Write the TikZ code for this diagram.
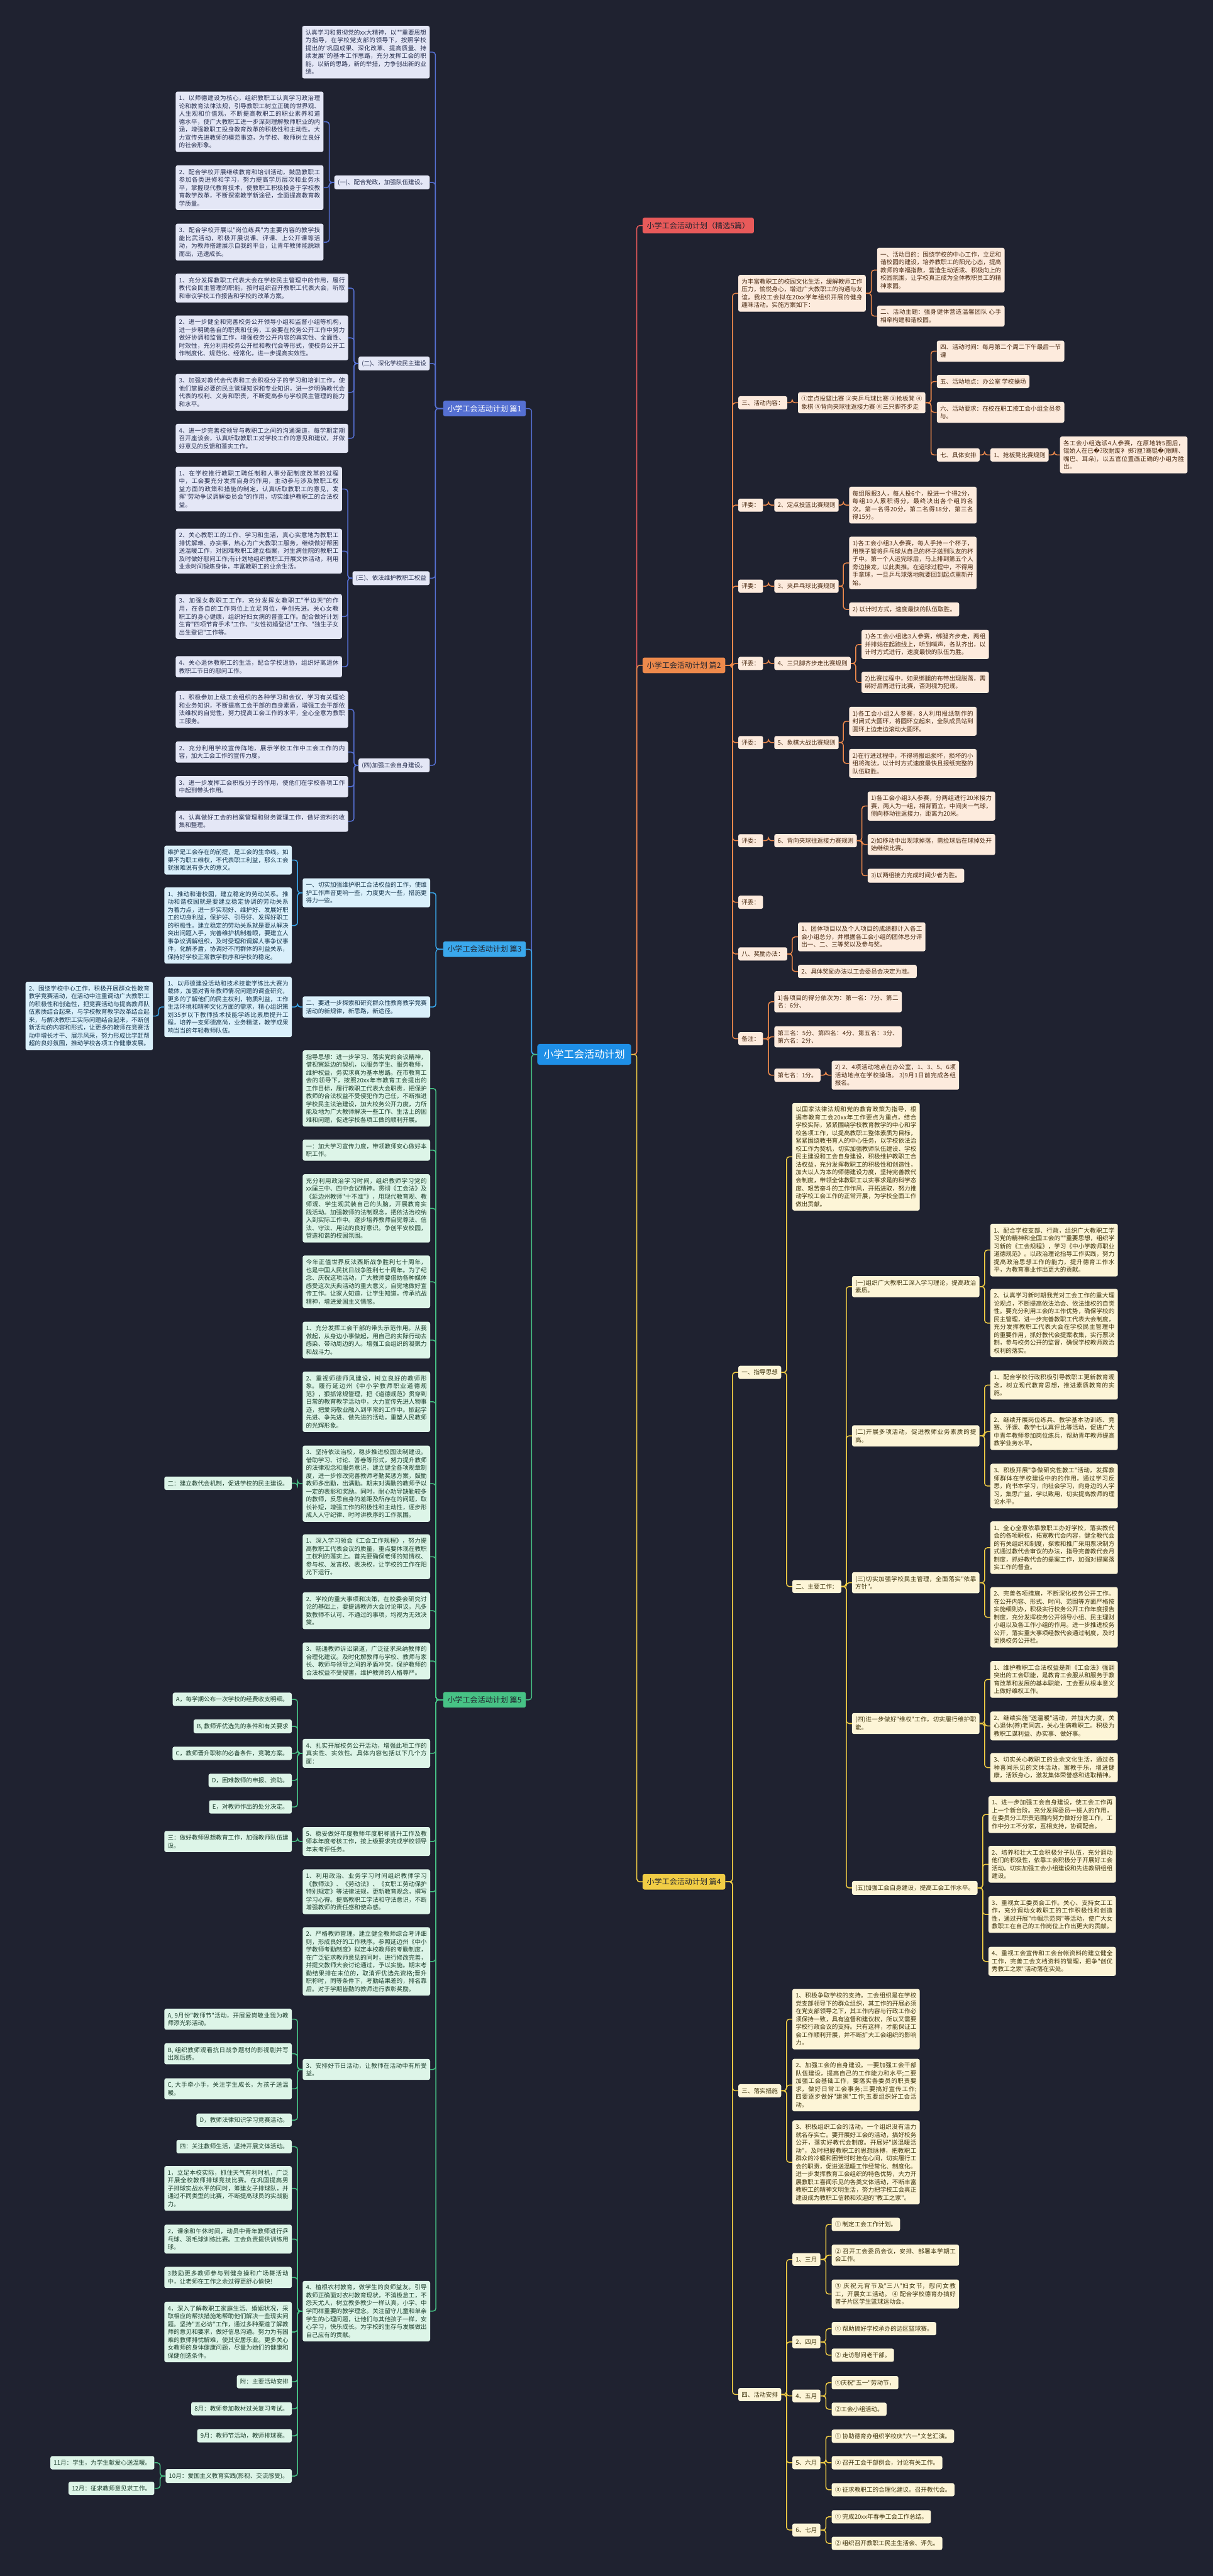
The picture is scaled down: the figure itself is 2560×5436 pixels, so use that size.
\documentclass[tikz,border=0pt]{standalone}
\usepackage{fontspec}
\newfontfamily\cjk{Noto Sans CJK SC}
\newfontfamily\djv{DejaVu Sans}
\XeTeXlinebreaklocale "zh"
\XeTeXlinebreakskip = 0pt plus 1pt
\definecolor{bg}{HTML}{1F2230}
\definecolor{rootc}{HTML}{1E8FE6}
\definecolor{dk}{HTML}{22242E}
\definecolor{c0}{HTML}{E85A5A}
\definecolor{c1}{HTML}{5570D2}
\definecolor{f1}{HTML}{E4E7F6}
\definecolor{t1}{HTML}{283050}
\definecolor{c2}{HTML}{EE8A4C}
\definecolor{f2}{HTML}{FDEBDD}
\definecolor{t2}{HTML}{4A2A12}
\definecolor{c3}{HTML}{3AA8EC}
\definecolor{f3}{HTML}{DAF0FB}
\definecolor{t3}{HTML}{18374F}
\definecolor{c4}{HTML}{F1CD45}
\definecolor{f4}{HTML}{FDF5D7}
\definecolor{t4}{HTML}{3E330C}
\definecolor{c5}{HTML}{47C285}
\definecolor{f5}{HTML}{DDF5E8}
\definecolor{t5}{HTML}{1D3F2D}
% links: parent, child (left side / right side)
\def\lk[#1](#2)(#3){\draw[#1] (#3.east) -- ++(12,0) |- (#2.west);}
\def\rk[#1](#2)(#3){\draw[#1] (#3.west) -- ++(-12,0) |- (#2.east);}
\tikzset{
  rootbox/.style={fill=rootc, text=white, rounded corners=5pt, inner xsep=13pt, inner ysep=12pt, font=\cjk\fontsize{21.5}{24}\selectfont},
  sec/.style={rounded corners=4pt, inner xsep=9pt, inner ysep=9pt, font=\cjk\fontsize{16}{18}\selectfont},
  box/.style={rounded corners=4pt, inner xsep=7pt, inner ysep=8pt, font=\cjk\fontsize{12.75}{16.6}\selectfont},
  wide/.style={text width=255pt, align=justify},
  b1/.style={box, fill=f1, text=t1},
  b2/.style={box, fill=f2, text=t2},
  b3/.style={box, fill=f3, text=t3},
  b4/.style={box, fill=f4, text=t4},
  b5/.style={box, fill=f5, text=t5},
  e0/.style={draw=c0, line width=2pt, rounded corners=6pt},
  e1/.style={draw=c1, line width=2pt, rounded corners=6pt},
  e2/.style={draw=c2, line width=2pt, rounded corners=6pt},
  e3/.style={draw=c3, line width=2pt, rounded corners=6pt},
  e4/.style={draw=c4, line width=2pt, rounded corners=6pt},
  e5/.style={draw=c5, line width=2pt, rounded corners=6pt},
}
\begin{document}
\begin{tikzpicture}[x=1pt,y=-1pt]
\fill[bg] (0,0) rectangle (2560,5436);
\useasboundingbox (0,0) rectangle (2560,5436);

% root and sections
\node[rootbox] (root) at (1233,2225) {小学工会活动计划};
\node[sec, fill=c1, text=white, anchor=east] (p1) at (1110,862) {小学工会活动计划 篇1};
\node[sec, fill=c3, text=dk, anchor=east] (p3) at (1110,2003) {小学工会活动计划 篇3};
\node[sec, fill=c5, text=dk, anchor=east] (p5) at (1110,3587) {小学工会活动计划 篇5};
\node[sec, fill=c0, text=dk, anchor=west] (p0) at (1356,476) {小学工会活动计划（精选5篇）};
\node[sec, fill=c2, text=dk, anchor=west] (p2) at (1356,1404) {小学工会活动计划 篇2};
\node[sec, fill=c4, text=dk, anchor=west] (p4) at (1356,3971) {小学工会活动计划 篇4};
\lk[e1](root)(p1) \lk[e3](root)(p3) \lk[e5](root)(p5)
\rk[e0](root)(p0) \rk[e2](root)(p2) \rk[e4](root)(p4)

% ---- 篇1
\node[b1, wide, anchor=east] (a0) at (907,110) {认真学习和贯彻党的xx大精神，以""重要思想为指导，在学校党支部的领导下，按照学校提出的"巩固成果、深化改革、提高质量、持续发展"的基本工作思路，充分发挥工会的职能，以新的思路，新的举措，力争创出新的业绩。};
\node[b1, anchor=east] (a1) at (907,385) {(一)、配合党政，加强队伍建设。};
\node[b1, anchor=east] (a2) at (907,767) {(二)、深化学校民主建设};
\node[b1, anchor=east] (a3) at (907,1220) {(三)、依法维护教职工权益};
\node[b1, anchor=east] (a4) at (907,1615) {(四)加强工会自身建设。};
\foreach \c in {a0,a1,a2,a3,a4} {\lk[e1](p1)(\c)}
\node[b1, text width=298pt, align=justify, anchor=east] (a11) at (683,257) {1、以师德建设为核心，组织教职工认真学习政治理论和教育法律法规，引导教职工树立正确的世界观、人生观和价值观，不断提高教职工的职业素养和道德水平，使广大教职工进一步深刻理解教师职业的内涵，增强教职工投身教育改革的积极性和主动性。大力宣传先进教师的模范事迹，为学校、教师树立良好的社会形象。};
\node[b1, text width=298pt, align=justify, anchor=east] (a12) at (683,396) {2、配合学校开展继续教育和培训活动，鼓励教职工参加各类进修和学习，努力提高学历层次和业务水平，掌握现代教育技术，使教职工积极投身于学校教育教学改革，不断探索教学新途径，全面提高教育教学质量。};
\node[b1, text width=298pt, align=justify, anchor=east] (a13) at (683,511) {3、配合学校开展以"岗位练兵"为主要内容的教学技能比武活动，积极开展说课、评课、上公开课等活动，为教师搭建展示自我的平台，让青年教师能脱颖而出，迅速成长。};
\foreach \c in {a11,a12,a13} {\lk[e1](a1)(\c)}
\node[b1, text width=350pt, align=justify, anchor=east] (a21) at (735,608) {1、充分发挥教职工代表大会在学校民主管理中的作用，履行教代会民主管理的职能，按时组织召开教职工代表大会，听取和审议学校工作报告和学校的改革方案。};
\node[b1, text width=350pt, align=justify, anchor=east] (a22) at (735,713) {2、进一步健全和完善校务公开领导小组和监督小组等机构，进一步明确各自的职责和任务，工会要在校务公开工作中努力做好协调和监督工作，增强校务公开内容的真实性、全面性、时效性，充分利用校务公开栏和教代会等形式，使校务公开工作制度化、规范化、经常化，进一步提高实效性。};
\node[b1, text width=350pt, align=justify, anchor=east] (a23) at (735,828) {3、加强对教代会代表和工会积极分子的学习和培训工作，使他们掌握必要的民主管理知识和专业知识，进一步明确教代会代表的权利、义务和职责，不断提高参与学校民主管理的能力和水平。};
\node[b1, text width=350pt, align=justify, anchor=east] (a24) at (735,925) {4、进一步完善校领导与教职工之间的沟通渠道，每学期定期召开座谈会，认真听取教职工对学校工作的意见和建议，并做好意见的反馈和落实工作。};
\foreach \c in {a21,a22,a23,a24} {\lk[e1](a2)(\c)}
\node[b1, text width=337pt, align=justify, anchor=east] (a31) at (722,1032) {1、在学校推行教职工聘任制和人事分配制度改革的过程中，工会要充分发挥自身的作用，主动参与涉及教职工权益方面的政策和措施的制定，认真听取教职工的意见，发挥"劳动争议调解委员会"的作用，切实维护教职工的合法权益。};
\node[b1, text width=337pt, align=justify, anchor=east] (a32) at (722,1163) {2、关心教职工的工作、学习和生活，真心实意地为教职工排忧解难、办实事，热心为广大教职工服务，继续做好帮困送温暖工作，对困难教职工建立档案，对生病住院的教职工及时做好慰问工作;有计划地组织教职工开展文体活动，利用业余时间锻炼身体，丰富教职工的业余生活。};
\node[b1, text width=337pt, align=justify, anchor=east] (a33) at (722,1301) {3、加强女教职工工作，充分发挥女教职工"半边天"的作用，在各自的工作岗位上立足岗位，争创先进。关心女教职工的身心健康，组织好妇女病的普查工作。配合做好计划生育"四项节育手术"工作、"女性初婚登记"工作、"独生子女出生登记"工作等。};
\node[b1, text width=337pt, align=justify, anchor=east] (a34) at (722,1407) {4、关心退休教职工的生活，配合学校退协，组织好离退休教职工节日的慰问工作。};
\foreach \c in {a31,a32,a33,a34} {\lk[e1](a3)(\c)}
\node[b1, text width=350pt, align=justify, anchor=east] (a41) at (735,1497) {1、积极参加上级工会组织的各种学习和会议，学习有关理论和业务知识，不断提高工会干部的自身素质，增强工会干部依法维权的自觉性，努力提高工会工作的水平，全心全意为教职工服务。};
\node[b1, text width=350pt, align=justify, anchor=east] (a42) at (735,1587) {2、充分利用学校宣传阵地，展示学校工作中工会工作的内容，加大工会工作的宣传力度。};
\node[b1, text width=350pt, align=justify, anchor=east] (a43) at (735,1660) {3、进一步发挥工会积极分子的作用，使他们在学校各项工作中起到带头作用。};
\node[b1, text width=350pt, align=justify, anchor=east] (a44) at (735,1733) {4、认真做好工会的档案管理和财务管理工作，做好资料的收集和整理。};
\foreach \c in {a41,a42,a43,a44} {\lk[e1](a4)(\c)}

% ---- 篇3
\node[b3, wide, anchor=east] (c1) at (908,1884) {一、切实加强维护职工合法权益的工作，使维护工作声音更响一些，力度更大一些，措施更得力一些。};
\node[b3, wide, anchor=east] (c2) at (908,2125) {二、要进一步探索和研究群众性教育教学竞赛活动的新规律，新思路，新途径。};
\lk[e3](p3)(c1) \lk[e3](p3)(c2)
\node[b3, wide, anchor=east] (c11) at (616,1815) {维护是工会存在的前提，是工会的生命线。如果不为职工维权，不代表职工利益，那么工会就很难说有多大的意义。};
\node[b3, wide, anchor=east] (c12) at (616,1953) {1、推动和谐校园，建立稳定的劳动关系。推动和谐校园就是要建立稳定协调的劳动关系为着力点，进一步实现好、维护好、发展好职工的切身利益，保护好、引导好、发挥好职工的积极性。建立稳定的劳动关系就是要从解决突出问题入手，完善维护机制着眼，要建立人事争议调解组织，及时受理和调解人事争议事件，化解矛盾，协调好不同群体的利益关系，保持好学校正常教学秩序和学校的稳定。};
\lk[e3](c1)(c11) \lk[e3](c1)(c12)
\node[b3, wide, anchor=east] (c21) at (616,2125) {1、以师德建设活动和技术技能学练比大赛为载体，加强对青年教师情况问题的调查研究，更多的了解他们的民主权利，物质利益，工作生活环境和精神文化方面的需求，精心组织策划35岁以下教师技术技能学练比素质提升工程，培养一支师德高尚，业务精湛，教学成果响当当的年轻教师队伍。};
\lk[e3](c2)(c21)
\node[b3, wide, anchor=east] (c211) at (323,2144) {2、围绕学校中心工作，积极开展群众性教育教学竞赛活动，在活动中注重调动广大教职工的积极性和创造性，把竞赛活动与提高教师队伍素质结合起来，与学校教育教学改革结合起来，与解决教职工实际问题结合起来，不断创新活动的内容和形式，让更多的教师在竞赛活动中增长才干、展示风采，努力形成比学赶帮超的良好氛围，推动学校各项工作健康发展。};
\lk[e3](c21)(c211)

% ---- 篇5
\node[b5, wide, anchor=east] (g1) at (908,2297) {指导思想：进一步学习、落实党的会议精神，借视察延边的契机，以服务学生、服务教师，维护权益，务实求真为基本思路。在市教育工会的领导下，按照20xx年市教育工会提出的工作目标，履行教职工代表大会职责，把保护教师的合法权益不受侵犯作为己任，不断推进学校民主法治建设，加大校务公开力度，力所能及地为广大教师解决一些工作、生活上的困难和问题，促进学校各项工做的顺利开展。};
\node[b5, wide, anchor=east] (g2) at (908,2427) {一：加大学习宣传力度，带领教师安心做好本职工作。};
\node[b5, wide, anchor=east] (g3) at (908,2550) {充分利用政治学习时间，组织教师学习党的xx届三中、四中会议精神。贯彻《工会法》及《延边州教师"十不准"》，用现代教育观、教师观、学生观武装自己的头脑，开展教育实践活动。加强教师的法制观念，把依法治校纳入到实际工作中。逐步培养教师自觉尊法、信法、守法、用法的良好意识。争创平安校园，营造和谐的校园氛围。};
\node[b5, wide, anchor=east] (g4) at (908,2705) {今年正值世界反法西斯战争胜利七十周年，也是中国人民抗日战争胜利七十周年。为了纪念、庆祝这项活动，广大教师要借助各种媒体感受这次庆典活动的重大意义，自觉地做好宣传工作。让家人知道，让学生知道，传承抗战精神，增进爱国主义情感。};
\node[b5, wide, anchor=east] (g5) at (908,2828) {1、充分发挥工会干部的带头示范作用。从我做起，从身边小事做起，用自己的实际行动去感染、带动周边的人。增强工会组织的凝聚力和战斗力。};
\node[b5, wide, anchor=east] (g6) at (908,2958) {2、重视师德师风建设，树立良好的教师形象。履行延边州《中小学教师职业道德规范》，狠抓常规管理，把《道德规范》贯穿到日常的教育教学活动中，大力宣传先进人物事迹，把爱岗敬业融入到平常的工作中。掀起学先进、争先进、做先进的活动，重塑人民教师的光辉形象。};
\node[b5, wide, anchor=east] (g7) at (908,3131) {3、坚持依法治校，稳步推进校园法制建设。借助学习、讨论、答卷等形式，努力提升教师的法律观念和服务意识，建立健全各项规章制度，进一步修改完善教师考勤奖惩方案，鼓励教师多出勤，出满勤。期末对满勤的教师予以一定的表彰和奖励。同时，耐心劝导缺勤较多的教师，反思自身的差距及所存在的问题，取长补短，增强工作的积极性和主动性，逐步形成人人守纪律、时时讲秩序的工作氛围。};
\node[b5, wide, anchor=east] (g8) at (908,3285) {1、深入学习领会《工会工作规程》，努力提高教职工代表会议的质量，重点要体现在教职工权利的落实上。首先要确保老师的知情权、参与权、发言权、表决权，让学校的工作在阳光下运行。};
\node[b5, wide, anchor=east] (g9) at (908,3399) {2、学校的重大事项和决策，在校委会研究讨论的基础上，要提请教师大会讨论审议。凡多数教师不认可、不通过的事项，均视为无效决策。};
\node[b5, wide, anchor=east] (g10) at (908,3505) {3、畅通教师诉讼渠道，广泛征求采纳教师的合理化建议。及时化解教师与学校、教师与家长、教师与领导之间的矛盾冲突，保护教师的合法权益不受侵害，维护教师的人格尊严。};
\node[b5, wide, anchor=east] (g11) at (908,3700) {4、扎实开展校务公开活动，增强此项工作的真实性、实效性。具体内容包括以下几个方面：};
\node[b5, wide, anchor=east] (g12) at (908,3886) {5、稳妥做好年度教师年度职称晋升工作及教师本年度考核工作，按上级要求完成学校领导年末考评任务。};
\node[b5, wide, anchor=east] (g13) at (908,3992) {1、利用政治、业务学习时间组织教师学习《教师法》、《劳动法》、《女职工劳动保护特别规定》等法律法规，更新教育观念，撰写学习心得。提高教职工学法和守法意识，不断增强教师的责任感和使命感。};
\node[b5, wide, anchor=east] (g14) at (908,4139) {2、严格教师管理，建立健全教师综合考评细则，形成良好的工作秩序。参照延边州《中小学教师考勤制度》拟定本校教师的考勤制度，在广泛征求教师意见的同时，进行修改完善，并提交教师大会讨论通过，予以实施。期末考勤结果排在末位的，取消评优选先资格;晋升职称时，同等条件下，考勤结果差的，排名靠后。对于学期皆勤的教师进行表彰奖励。};
\node[b5, wide, anchor=east] (g15) at (908,4367) {3、安排好节日活动，让教师在活动中有所受益。};
\node[b5, wide, anchor=east] (g16) at (908,4877) {4、植根农村教育，做学生的良师益友。引导教师正确面对农村教育现状，不消极怠工，不怨天尤人，树立教多教少一样认真，小学、中学同样重要的教学理念。关注留守儿童和单亲学生的心理问题，让他们与其他孩子一样，安心学习，快乐成长。为学校的生存与发展做出自己应有的贡献。};
\foreach \c in {g1,g2,g3,g4,g5,g6,g7,g8,g9,g10,g11,g12,g13,g14,g15,g16} {\lk[e5](p5)(\c)}
\node[b5, anchor=east] (g71) at (616,3130) {二：建立教代会机制，促进学校的民主建设。};
\lk[e5](g7)(g71)
\node[b5, anchor=east] (g111) at (616,3586) {A，每学期公布一次学校的经费收支明细。};
\node[b5, anchor=east] (g112) at (616,3643) {B, 教师评优选先的条件和有关要求};
\node[b5, anchor=east] (g113) at (616,3700) {C，教师晋升职称的必备条件，竞聘方案。};
\node[b5, anchor=east] (g114) at (616,3757) {D，困难教师的申报、资助。};
\node[b5, anchor=east] (g115) at (616,3813) {E，对教师作出的处分决定。};
\foreach \c in {g111,g112,g113,g114,g115} {\lk[e5](g11)(\c)}
\node[b5, wide, anchor=east] (g121) at (616,3886) {三：做好教师思想教育工作，加强教师队伍建设。};
\lk[e5](g12)(g121)
\node[b5, wide, anchor=east] (g151) at (616,4261) {A, 9月份"教师节"活动，开展爱岗敬业我为教师添光彩活动。};
\node[b5, wide, anchor=east] (g152) at (616,4334) {B, 组织教师观看抗日战争题材的影视剧并写出观后感。};
\node[b5, wide, anchor=east] (g153) at (616,4408) {C, 大手牵小手，关注学生成长，为孩子送温暖。};
\node[b5, anchor=east] (g154) at (616,4474) {D，教师法律知识学习竞赛活动。};
\foreach \c in {g151,g152,g153,g154} {\lk[e5](g15)(\c)}
\node[b5, anchor=east] (g161) at (616,4530) {四：关注教师生活，坚持开展文体活动。};
\node[b5, wide, anchor=east] (g162) at (616,4618) {1，立足本校实际，抓住天气有利时机，广泛开展全校教师排球竞技比赛。在巩固提高男子排球实战水平的同时，筹建女子排球队，并通过不同类型的比赛，不断提高球员的实战能力。};
\node[b5, wide, anchor=east] (g163) at (616,4725) {2，课余和午休时间，动员中青年教师进行乒乓球、羽毛球训练比赛。工会负责提供训练用球。};
\node[b5, wide, anchor=east] (g164) at (616,4806) {3鼓励更多教师参与到健身操和广场舞活动中，让老师在工作之余过得更舒心愉快!};
\node[b5, wide, anchor=east] (g165) at (616,4921) {4，深入了解教职工家庭生活、婚姻状况，采取相应的帮扶措施地帮助他们解决一些现实问题。坚持"五必访"工作，通过多种渠道了解教师的意见和要求，做好信息沟通。努力为有困难的教师排忧解难，使其安居乐业。更多关心女教师的身体健康问题，尽量为她们的健康和保健创造条件。};
\node[b5, anchor=east] (g166) at (616,5026) {附：主要活动安排};
\node[b5, anchor=east] (g167) at (616,5083) {8月：教师参加教材过关复习考试。};
\node[b5, anchor=east] (g168) at (616,5140) {9月：教师节活动，教师排球赛。};
\node[b5, anchor=east] (g169) at (616,5225) {10月：爱国主义教育实践(影视、交流感受)。};
\foreach \c in {g161,g162,g163,g164,g165,g166,g167,g168,g169} {\lk[e5](g16)(\c)}
\node[b5, anchor=east] (g1691) at (326,5197) {11月：学生，为学生献爱心送温暖。};
\node[b5, anchor=east] (g1692) at (326,5251) {12月：征求教师意见求工作。};
\lk[e5](g169)(g1691) \lk[e5](g169)(g1692)

% ---- 篇2
\node[b2, wide, anchor=west] (h1) at (1558,619) {为丰富教职工的校园文化生活，缓解教师工作压力，愉悦身心，增进广大教职工的沟通与友谊，我校工会拟在20xx学年组织开展的健身趣味活动。实施方案如下：};
\node[b2, wide, anchor=west] (h11) at (1851,570) {一、活动目的：围绕学校的中心工作，立足和谐校园的建设，培养教职工的阳光心态，提高教师的幸福指数，营造生动活泼、积极向上的校园氛围，让学校真正成为全体教职员工的精神家园。};
\node[b2, wide, anchor=west] (h12) at (1851,667) {二、活动主题：强身健体营造温馨团队 心手相牵构建和谐校园。};
\rk[e2](h1)(h11) \rk[e2](h1)(h12)
\node[b2, anchor=west] (h2) at (1558,850) {三、活动内容：};
\node[b2, wide, anchor=west] (h21) at (1684,850) {①定点投篮比赛 ②夹乒乓球比赛 ③抢板凳 ④象棋 ⑤背向夹球往返接力赛 ⑥三只脚齐步走};
\rk[e2](h2)(h21)
\node[b2, wide, anchor=west] (h211) at (1977,741) {四、活动时间：每月第二个周二下午最后一节课};
\node[b2, anchor=west] (h212) at (1977,805) {五、活动地点：办公室 学校操场};
\node[b2, wide, anchor=west] (h213) at (1977,870) {六、活动要求：在校在职工按工会小组全员参与。};
\node[b2, anchor=west] (h214) at (1977,960) {七、具体安排};
\foreach \c in {h211,h212,h213,h214} {\rk[e2](h21)(\c)}
\node[b2, anchor=west] (h2141) at (2090,960) {1、抢板凳比赛规则};
\node[b2, wide, anchor=west] (h2142) at (2237,960) {各工会小组选派4人参赛，在原地转5圈后，锟娇人在已{\djv �}?玫耐废衤 掷?匣?骞锟{\djv �}(眼睛、嘴巴、耳朵)，以五官位置画正确的小组为胜出。};
\rk[e2](h214)(h2141) \rk[e2](h2141)(h2142)
\node[b2, anchor=west] (j1) at (1558,1066) {评委：};
\node[b2, anchor=west] (j11) at (1634,1066) {2、定点投篮比赛规则};
\node[b2, wide, anchor=west] (j111) at (1792,1066) {每组限报3人，每人投6个，投进一个得2分，每组10人累积得分，最终决出各个组的名次。第一名得20分，第二名得18分，第三名得15分。};
\rk[e2](j1)(j11) \rk[e2](j11)(j111)
\node[b2, anchor=west] (j2) at (1558,1237) {评委：};
\node[b2, anchor=west] (j21) at (1634,1237) {3、夹乒乓球比赛规则};
\node[b2, wide, anchor=west] (j211) at (1792,1188) {1)各工会小组3人参赛，每人手持一个杯子，用筷子管将乒乓球从自己的杯子送到队友的杯子中。第一个人运完球后，马上排到第五个人旁边接龙，以此类推。在运球过程中，不得用手拿球，一旦乒乓球落地就要回到起点重新开始。};
\node[b2, anchor=west] (j212) at (1792,1286) {2) 以计时方式，速度最快的队伍取胜。};
\rk[e2](j2)(j21) \rk[e2](j21)(j211) \rk[e2](j21)(j212)
\node[b2, anchor=west] (j3) at (1558,1400) {评委：};
\node[b2, anchor=west] (j31) at (1634,1400) {4、三只脚齐步走比赛规则};
\node[b2, wide, anchor=west] (j311) at (1818,1360) {1)各工会小组选3人参赛，绑腿齐步走，两组并排站在起跑线上，听到哨声，各队齐出，以计时方式进行，速度最快的队伍为胜。};
\node[b2, wide, anchor=west] (j312) at (1818,1440) {2)比赛过程中，如果绑腿的布带出现脱落，需绑好后再进行比赛，否则视为犯规。};
\rk[e2](j3)(j31) \rk[e2](j31)(j311) \rk[e2](j31)(j312)
\node[b2, anchor=west] (j4) at (1558,1567) {评委：};
\node[b2, anchor=west] (j41) at (1634,1567) {5、象棋大战比赛规则};
\node[b2, wide, anchor=west] (j411) at (1792,1522) {1)各工会小组2人参赛，8人利用报纸制作的封闭式大圆环，将圆环立起来，全队成员站到圆环上边走边滚动大圆环。};
\node[b2, wide, anchor=west] (j412) at (1792,1611) {2)在行进过程中，不得将报纸损坏，损坏的小组将淘汰，以计时方式速度最快且报纸完整的队伍取胜。};
\rk[e2](j4)(j41) \rk[e2](j41)(j411) \rk[e2](j41)(j412)
\node[b2, anchor=west] (j5) at (1558,1774) {评委：};
\node[b2, anchor=west] (j51) at (1634,1774) {6、背向夹球往返接力赛规则};
\node[b2, wide, anchor=west] (j511) at (1831,1701) {1)各工会小组3人参赛，分两组进行20米接力赛，两人为一组，相背而立，中间夹一气球，侧向移动往返接力，距离为20米。};
\node[b2, wide, anchor=west] (j512) at (1831,1782) {2)如移动中出现球掉落，需捡球后在球掉处开始继续比赛。};
\node[b2, anchor=west] (j513) at (1831,1848) {3)以两组接力完成时间少者为胜。};
\rk[e2](j5)(j51) \rk[e2](j51)(j511) \rk[e2](j51)(j512) \rk[e2](j51)(j513)
\node[b2, anchor=west] (j6) at (1558,1904) {评委：};
\node[b2, anchor=west] (h9) at (1558,2013) {八、奖励办法：};
\node[b2, wide, anchor=west] (h91) at (1684,1977) {1、团体项目以及个人项目的成绩都计入各工会小组总分，并根据各工会小组的团体总分评出一、二、三等奖以及参与奖。};
\node[b2, anchor=west] (h92) at (1684,2050) {2、具体奖励办法以工会委员会决定为准。};
\rk[e2](h9)(h91) \rk[e2](h9)(h92)
\node[b2, anchor=west] (h10) at (1558,2192) {备注：};
\node[b2, wide, anchor=west] (h101) at (1634,2114) {1)各项目的得分依次为：第一名：7分、第二名：6分、};
\node[b2, wide, anchor=west] (h102) at (1634,2188) {第三名：5分、第四名：4分、第五名：3分、第六名：2分、};
\node[b2, anchor=west] (h103) at (1634,2269) {第七名：1分。};
\node[b2, wide, anchor=west] (h1031) at (1755,2269) {2) 2、4项活动地点在办公室，1、3、5、6项活动地点在学校操场。 3)9月1日前完成各组报名。};
\rk[e2](h10)(h101) \rk[e2](h10)(h102) \rk[e2](h10)(h103) \rk[e2](h103)(h1031)
\foreach \c in {h1,h2,j1,j2,j3,j4,j5,j6,h9,h10} {\rk[e2](p2)(\c)}

% ---- 篇4
\node[b4, anchor=west] (k1) at (1558,2896) {一、指导思想};
\node[b4, wide, anchor=west] (k11) at (1672,2441) {以国家法律法规和党的教育政策为指导，根据市教育工会20xx年工作要点为重点，结合学校实际，紧紧围绕学校教育教学的中心和学校各项工作，以提高教职工整体素质为目标，紧紧围绕教书育人的中心任务，以学校依法治校工作为契机，切实加强教师队伍建设、学校民主建设和工会自身建设，积极维护教职工合法权益，充分发挥教职工的积极性和创造性，加大以人为本的师德建设力度，坚持完善教代会制度，带领全体教职工以实事求是的科学态度、艰苦奋斗的工作作风，开拓进取，努力推动学校工会工作的正常开展，为学校全面工作做出贡献。};
\node[b4, anchor=west] (k12) at (1672,3348) {二、主要工作：};
\rk[e4](k1)(k11) \rk[e4](k1)(k12)
\node[b4, wide, anchor=west] (k121) at (1798,2715) {(一)组织广大教职工深入学习理论，提高政治素质。};
\node[b4, wide, anchor=west] (k122) at (1798,3030) {(二)开展多项活动，促进教师业务素质的提高。};
\node[b4, wide, anchor=west] (k123) at (1798,3340) {(三)切实加强学校民主管理，全面落实"依靠方针"。};
\node[b4, wide, anchor=west] (k124) at (1798,3637) {(四)进一步做好"维权"工作，切实履行维护职能。};
\node[b4, anchor=west] (k125) at (1798,3984) {(五)加强工会自身建设，提高工会工作水平。};
\foreach \c in {k121,k122,k123,k124,k125} {\rk[e4](k12)(\c)}
\node[b4, wide, anchor=west] (k1211) at (2090,2638) {1、配合学校支部、行政，组织广大教职工学习党的精神和全国工会的""重要思想，组织学习新的《工会规程》，学习《中小学教师职业道德规范》。以政治理论指导工作实践，努力提高政治思想工作的能力，提升德育工作水平，为教育事业作出更大的贡献。};
\node[b4, wide, anchor=west] (k1212) at (2090,2792) {2、认真学习新时期我党对工会工作的重大理论观点，不断提高依法治会、依法维权的自觉性。要充分利用工会的工作优势，确保学校的民主管理，进一步完善教职工代表大会制度，充分发挥教职工代表大会在学校民主管理中的重要作用，抓好教代会提案收集，实行票决制，参与校务公开的监督，确保学校教师政治权利的落实。};
\rk[e4](k121)(k1211) \rk[e4](k121)(k1212)
\node[b4, wide, anchor=west] (k1221) at (2090,2923) {1、配合学校行政积极引导教职工更新教育观念，树立现代教育思想，推进素质教育的实施。};
\node[b4, wide, anchor=west] (k1222) at (2090,3021) {2、继续开展岗位练兵、教学基本功训练、竞赛、评课、教学七认真评比等活动，促进广大中青年教师参加岗位练兵，帮助青年教师提高教学业务水平。};
\node[b4, wide, anchor=west] (k1223) at (2090,3136) {3、积极开展"争做研究性教工"活动，发挥教师群体在学校建设中的的作用，通过学习反思，向书本学习，向社会学习，向身边的人学习，集思广益，学以致用，切实提高教师的理论水平。};
\foreach \c in {k1221,k1222,k1223} {\rk[e4](k122)(\c)}
\node[b4, wide, anchor=west] (k1231) at (2090,3266) {1、全心全意依靠教职工办好学校，落实教代会的各项职权，拓宽教代会内容，健全教代会的有关组织和制度，探索和推广采用票决制方式通过教代会审议的办法，指导完善教代会月制度，抓好教代会的提案工作，加强对提案落实工作的督查。};
\node[b4, wide, anchor=west] (k1232) at (2090,3413) {2、完善各项措施，不断深化校务公开工作。在公开内容、形式、时间、范围等方面严格按实施细则办，积极实行校务公开工作年度报告制度，充分发挥校务公开领导小组、民主理财小组以及各工作小组的作用。进一步推进校务公开，落实重大事项经教代会通过制度，及时更换校务公开栏。};
\rk[e4](k123)(k1231) \rk[e4](k123)(k1232)
\node[b4, wide, anchor=west] (k1241) at (2090,3544) {1、维护教职工合法权益是新《工会法》强调突出的工会职能，是教育工会服从和服务于教育改革和发展的基本职能，工会要从根本意义上做好维权工作。};
\node[b4, wide, anchor=west] (k1242) at (2090,3642) {2、继续实施"送温暖"活动，并加大力度，关心退休(养)老同志，关心生病教职工。积极为教职工谋利益、办实事、做好事。};
\node[b4, wide, anchor=west] (k1243) at (2090,3730) {3、切实关心教职工的业余文化生活，通过各种喜闻乐见的文体活动，寓教于乐，增进健康，活跃身心，激发集体荣誉感和进取精神。};
\foreach \c in {k1241,k1242,k1243} {\rk[e4](k124)(\c)}
\node[b4, wide, anchor=west] (k1251) at (2086,3829) {1、进一步加强工会自身建设，使工会工作再上一个新台阶。充分发挥委员一班人的作用，在委员分工职责范围内努力做好分管工作，工作中分工不分家，互相支持，协调配合。};
\node[b4, wide, anchor=west] (k1252) at (2086,3934) {2、培养和壮大工会积极分子队伍，充分调动他们的积极性，依靠工会积极分子开展好工会活动。切实加强工会小组建设和先进教研组组建设。};
\node[b4, wide, anchor=west] (k1253) at (2086,4040) {3、重视女工委员会工作。关心、支持女工工作，充分调动女教职工的工作积极性和创造性，通过开展"巾帼示范岗"等活动，使广大女教职工在自己的工作岗位上作出更大的贡献。};
\node[b4, wide, anchor=west] (k1254) at (2086,4139) {4、重视工会宣传和工会台帐资料的建立健全工作，完善工会文档资料的管理，把争"创优秀教工之家"活动落在实处。};
\foreach \c in {k1251,k1252,k1253,k1254} {\rk[e4](k125)(\c)}
\node[b4, anchor=west] (k3) at (1558,4412) {三、落实措施};
\node[b4, wide, anchor=west] (k31) at (1672,4261) {1、积极争取学校的支持。工会组织是在学校党支部领导下的群众组织，其工作的开展必须在党支部领导之下，其工作内容与行政工作必须保持一致，具有监督和建议权，所以又需要学校行政会议的支持。只有这样，才能保证工会工作顺利开展，并不断扩大工会组织的影响力。};
\node[b4, wide, anchor=west] (k32) at (1672,4400) {2、加强工会的自身建设。一要加强工会干部队伍建设，提高自己的工作能力和水平;二要加强工会基础工作，要落实各委员的职责要求，做好日常工会事务;三要搞好宣传工作;四要逐步做好"建家"工作;五要组织好工会活动。};
\node[b4, wide, anchor=west] (k33) at (1672,4563) {3、积极组织工会的活动。一个组织没有活力就名存实亡。要开展好工会的活动，搞好校务公开，落实好教代会制度。开展好"送温暖活动"，及时把握教职工的思想脉搏，把教职工群众的冷暖和困苦时时挂在心间，切实履行工会的职责，促进送温暖工作经常化、制度化。进一步发挥教育工会组织的特色优势，大力开展教职工喜闻乐见的各类文体活动，不断丰富教职工的精神文明生活，努力把学校工会真正建设成为教职工信赖和欢迎的"教工之家"。};
\foreach \c in {k31,k32,k33} {\rk[e4](k3)(\c)}
\node[b4, anchor=west] (k4) at (1558,5053) {四、活动安排};
\node[b4, anchor=west] (k41) at (1672,4768) {1、三月};
\node[b4, anchor=west] (k42) at (1672,4942) {2、四月};
\node[b4, anchor=west] (k43) at (1672,5056) {4、五月};
\node[b4, anchor=west] (k44) at (1672,5197) {5、六月};
\node[b4, anchor=west] (k45) at (1672,5339) {6、七月};
\foreach \c in {k41,k42,k43,k44,k45} {\rk[e4](k4)(\c)}
\node[b4, anchor=west] (k411) at (1755,4694) {① 制定工会工作计划。};
\node[b4, wide, anchor=west] (k412) at (1755,4759) {② 召开工会委员会议，安排、部署本学期工会工作。};
\node[b4, wide, anchor=west] (k413) at (1755,4841) {③ 庆祝元宵节及"三八"妇女节，慰问女教工，开展女工活动。 ④ 配合学校德育办搞好普子片区学生篮球运动会。};
\foreach \c in {k411,k412,k413} {\rk[e4](k41)(\c)}
\node[b4, anchor=west] (k421) at (1755,4914) {① 帮助搞好学校承办的边区篮球赛。};
\node[b4, anchor=west] (k422) at (1755,4970) {② 走访慰问老干部。};
\rk[e4](k42)(k421) \rk[e4](k42)(k422)
\node[b4, anchor=west] (k431) at (1755,5028) {①庆祝"五一"劳动节，};
\node[b4, anchor=west] (k432) at (1755,5084) {②工会小组活动。};
\rk[e4](k43)(k431) \rk[e4](k43)(k432)
\node[b4, anchor=west] (k441) at (1755,5141) {① 协助德育办组织学校庆"六一"文艺汇演。};
\node[b4, anchor=west] (k442) at (1755,5197) {② 召开工会干部例会，讨论有关工作。};
\node[b4, anchor=west] (k443) at (1755,5254) {③ 征求教职工的合理化建议。召开教代会。};
\foreach \c in {k441,k442,k443} {\rk[e4](k44)(\c)}
\node[b4, anchor=west] (k451) at (1755,5311) {① 完成20xx年春季工会工作总结。};
\node[b4, anchor=west] (k452) at (1755,5367) {② 组织召开教职工民主生活会、评先。};
\rk[e4](k45)(k451) \rk[e4](k45)(k452)
\foreach \c in {k1,k3,k4} {\rk[e4](p4)(\c)}
\end{tikzpicture}
\end{document}
